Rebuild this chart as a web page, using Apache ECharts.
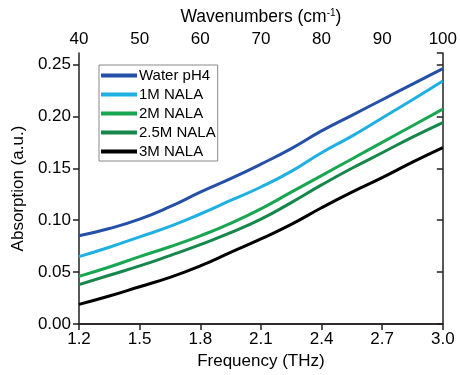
<!DOCTYPE html>
<html>
<head>
<meta charset="utf-8">
<script src="https://cdn.jsdelivr.net/npm/echarts@6/dist/echarts.min.js"></script>
<style>
  html, body { margin: 0; padding: 0; background: #fff; }
  #chart { width: 460px; height: 375px; }
</style>
</head>
<body>
<div id="chart"></div>
<script>
// frequency (THz) sample points
const freq = [1.2, 1.35, 1.5, 1.65, 1.8, 1.95, 2.1, 2.25, 2.4, 2.55, 2.7, 2.85, 3.0]

const waterPH4 = [0.085, 0.092, 0.101, 0.113, 0.127, 0.140, 0.154, 0.169, 0.186, 0.201, 0.216, 0.231, 0.246]
const nala1M   = [0.065, 0.074, 0.084, 0.094, 0.106, 0.119, 0.132, 0.147, 0.165, 0.181, 0.1985, 0.216, 0.234]
const nala2M   = [0.046, 0.055, 0.065, 0.0745, 0.085, 0.097, 0.111, 0.127, 0.143, 0.159, 0.175, 0.191, 0.207]
const nala25M  = [0.038, 0.047, 0.056, 0.066, 0.0765, 0.088, 0.101, 0.117, 0.134, 0.150, 0.165, 0.180, 0.194]
const nala3M   = [0.019, 0.027, 0.036, 0.045, 0.056, 0.069, 0.082, 0.096, 0.112, 0.127, 0.141, 0.156, 0.170]

const seriesNames = ['Water pH4', '1M NALA', '2M NALA', '2.5M NALA', '3M NALA']
const seriesData = [waterPH4, nala1M, nala2M, nala25M, nala3M]
const colors = ['#2450a8', '#1fb0e2', '#18a650', '#15874a', '#000000']

const axisColor = '#231f20'
const font = 'Liberation Sans, Arial, sans-serif'

const chart = echarts.init(document.getElementById('chart'))

chart.setOption({
  backgroundColor: '#fff',
  animation: false,
  textStyle: { fontFamily: font },
  grid: { left: 79, right: 17, top: 53, bottom: 48 },
  legend: {
    orient: 'vertical',
    left: 99,
    top: 65,
    icon: 'rect',
    itemWidth: 36,
    itemHeight: 4,
    itemGap: 4,
    padding: [3, 2, 2, 2],
    borderColor: '#888',
    borderWidth: 1,
    textStyle: { fontFamily: font, fontSize: 15, color: '#000', padding: [0, 0, 0, -3] },
    data: seriesNames
  },
  xAxis: [
    {
      type: 'value',
      position: 'bottom',
      min: 1.2,
      max: 3.0,
      interval: 0.3,
      name: 'Frequency (THz)',
      nameLocation: 'middle',
      nameGap: 27,
      nameTextStyle: { fontFamily: font, fontSize: 17, color: '#000' },
      axisLine: { lineStyle: { color: axisColor, width: 1.5 } },
      axisTick: { inside: false, length: 6, lineStyle: { color: axisColor, width: 1.5 } },
      axisLabel: { color: '#000', fontSize: 17, margin: 7, formatter: v => v.toFixed(1) },
      splitLine: { show: false }
    },
    {
      type: 'value',
      position: 'top',
      min: 40,
      max: 100,
      interval: 10,
      name: 'Wavenumbers (cm{sup|-1})',
      nameLocation: 'middle',
      nameGap: 27,
      nameTextStyle: {
        fontFamily: font, fontSize: 17.5, color: '#000',
        rich: { sup: { fontFamily: font, fontSize: 10, color: '#000', verticalAlign: 'top', padding: [0, 0, 8, 0] } }
      },
      axisLine: { lineStyle: { color: axisColor, width: 1.5 } },
      axisTick: { inside: true, length: 6, lineStyle: { color: axisColor, width: 1.5 } },
      axisLabel: { color: '#000', fontSize: 17, margin: 5 },
      splitLine: { show: false }
    }
  ],
  yAxis: [
    {
      type: 'value',
      position: 'left',
      min: 0,
      max: 0.261,
      interval: 0.05,
      name: 'Absorption (a.u.)',
      nameLocation: 'middle',
      nameGap: 46,
      nameTextStyle: { fontFamily: font, fontSize: 17, color: '#000' },
      axisLine: { show: true, lineStyle: { color: axisColor, width: 1.5 } },
      axisTick: { show: true, inside: false, length: 6, lineStyle: { color: axisColor, width: 1.5 } },
      axisLabel: { color: '#000', fontSize: 17, margin: 8, showMaxLabel: false, formatter: v => v.toFixed(2) },
      splitLine: { show: false }
    },
    {
      type: 'value',
      position: 'right',
      min: 0,
      max: 0.261,
      interval: 0.05,
      axisLine: { show: true, lineStyle: { color: axisColor, width: 1.5 } },
      axisTick: { show: true, inside: true, length: 6, lineStyle: { color: axisColor, width: 1.5 } },
      axisLabel: { show: false },
      splitLine: { show: false }
    }
  ],
  series: seriesNames.map((name, i) => ({
    name: name,
    type: 'line',
    xAxisIndex: 0,
    yAxisIndex: 0,
    data: freq.map((f, j) => [f, seriesData[i][j]]),
    smooth: 0.5,
    showSymbol: false,
    lineStyle: { color: colors[i], width: 3 },
    itemStyle: { color: colors[i] }
  }))
})
</script>
</body>
</html>
